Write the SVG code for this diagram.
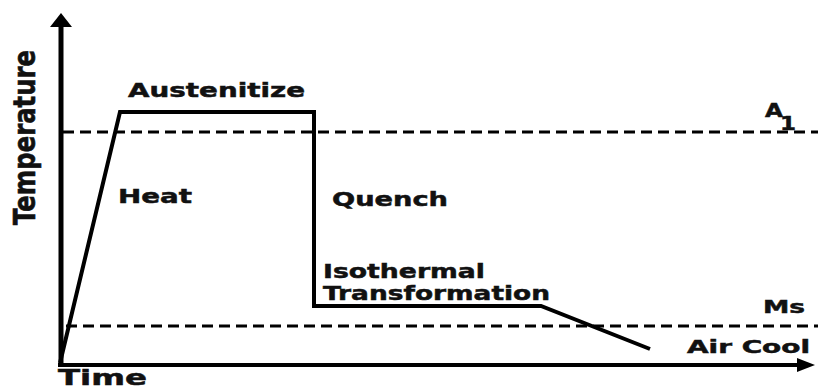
<svg xmlns="http://www.w3.org/2000/svg" width="818" height="391" viewBox="0 0 818 391">
<style>
.lbl{font-family:"DejaVu Sans","Liberation Sans",sans-serif;font-weight:bold;fill:#111;stroke:#111;stroke-width:0.5;}
.solid{fill:none;stroke:#000;stroke-width:4;stroke-linejoin:miter;}
.dash{fill:none;stroke:#000;stroke-width:3;stroke-dasharray:11 6;}
</style>
<rect width="818" height="391" fill="#fff"/>
<g id="axes">
  <line x1="61" y1="367" x2="61" y2="25" stroke="#000" stroke-width="5"/>
  <polygon points="50,27 61,13 72,27" fill="#000"/>
  <line x1="58" y1="365" x2="799" y2="365" stroke="#000" stroke-width="4"/>
  <polygon points="797,358 815,365 797,372" fill="#000"/>
</g>
<g id="reference-lines">
  <line class="dash" x1="63" y1="132" x2="818" y2="132"/>
  <line class="dash" x1="66" y1="326" x2="818" y2="326"/>
</g>
<g id="connectors">
  <polyline class="solid" points="60,363 120,112 314,112 314,306 541,306 650,349"/>
</g>
<g id="labels">
  <text class="lbl" font-size="24" textLength="175" lengthAdjust="spacingAndGlyphs" transform="translate(35,225) rotate(-90) scale(1,1.25)">Temperature</text>
  <text class="lbl" x="58" y="385" font-size="22" textLength="89" lengthAdjust="spacingAndGlyphs">Time</text>
  <text class="lbl" x="128" y="97" font-size="20" textLength="177" lengthAdjust="spacingAndGlyphs">Austenitize</text>
  <text class="lbl" x="118" y="203" font-size="20" textLength="74" lengthAdjust="spacingAndGlyphs">Heat</text>
  <text class="lbl" x="332" y="206" font-size="20" textLength="116" lengthAdjust="spacingAndGlyphs">Quench</text>
  <text class="lbl" x="323" y="278" font-size="20" textLength="162" lengthAdjust="spacingAndGlyphs">Isothermal</text>
  <text class="lbl" x="323" y="300" font-size="20" textLength="227" lengthAdjust="spacingAndGlyphs">Transformation</text>
  <text class="lbl" x="765" y="117" font-size="19" textLength="18" lengthAdjust="spacingAndGlyphs">A</text>
  <text class="lbl" x="780" y="130" font-size="19" textLength="16" lengthAdjust="spacingAndGlyphs">1</text>
  <text class="lbl" x="763" y="313" font-size="18" textLength="42" lengthAdjust="spacingAndGlyphs">Ms</text>
  <text class="lbl" x="687" y="353" font-size="18" textLength="123" lengthAdjust="spacingAndGlyphs">Air Cool</text>
</g>
</svg>
